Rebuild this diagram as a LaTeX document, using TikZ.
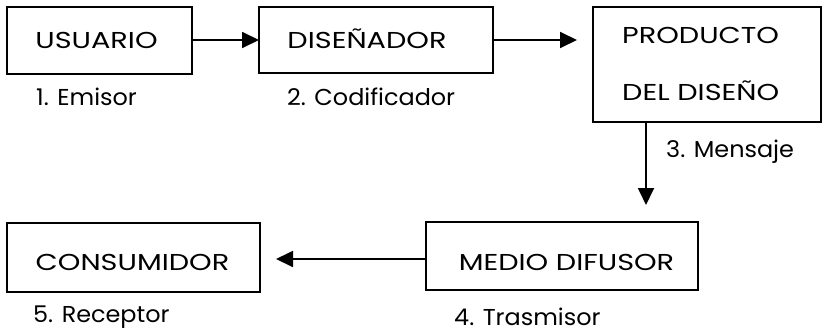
\documentclass[tikz,border=0pt]{standalone}
\usepackage{fontspec}
\usepackage{graphicx}
\setmainfont{Poppins}
\usetikzlibrary{arrows.meta}
% wide lettering: stretch text horizontally
\newcommand{\boxlabel}[1]{\scalebox{1.25}[1]{#1}}
\newcommand{\rolelabel}[1]{\scalebox{1.04}[1]{#1}}
\begin{document}
\begin{tikzpicture}[x=1pt,y=-1pt,
  stage/.style={draw=black,line width=1.8pt,rectangle,inner sep=0pt},
  boxtext/.style={font=\fontsize{23}{26}\selectfont,inner sep=0pt,anchor=base},
  role/.style={font=\fontsize{23}{26}\selectfont,anchor=base west,inner sep=0pt},
  flow/.style={line width=1.8pt,-{Triangle[length=17pt,width=16pt]}}]
\useasboundingbox (0,0) rectangle (824,332);
% boxes
\node[stage,minimum width=185pt,minimum height=67pt] (usuario) at (99.5,40.5) {};
\node[stage,minimum width=234pt,minimum height=66pt] (disenador) at (376,40) {};
\node[stage,minimum width=228pt,minimum height=115pt] (producto) at (707,64.5) {};
\node[stage,minimum width=272pt,minimum height=68pt] (medio) at (562,256) {};
\node[stage,minimum width=253pt,minimum height=69pt] (consumidor) at (133.5,257.5) {};
% box texts (placed on their baselines)
\node[boxtext] at (96.5,48) {\boxlabel{USUARIO}};
\node[boxtext] at (367,48) {\boxlabel{DISEÑADOR}};
\node[boxtext,anchor=base west] at (622,43) {\boxlabel{PRODUCTO}};
\node[boxtext,anchor=base west] at (622,100) {\boxlabel{DEL DISEÑO}};
\node[boxtext] at (566.5,270) {\boxlabel{MEDIO DIFUSOR}};
\node[boxtext] at (132.5,270) {\boxlabel{CONSUMIDOR}};
% roles
\node[role] at (36,105) {\rolelabel{1. Emisor}};
\node[role] at (287,105) {\rolelabel{2. Codificador}};
\node[role] at (666,157) {\rolelabel{3. Mensaje}};
\node[role] at (454,325) {\rolelabel{4. Trasmisor}};
\node[role] at (33,322) {\rolelabel{5. Receptor}};
% connectors
\coordinate (t1) at (259,40);
\coordinate (t2) at (577,40);
\coordinate (s3) at (646,122);
\coordinate (t3) at (646,205);
\coordinate (t4) at (276,259);
\coordinate (s4) at (426,259);
\draw[flow] (usuario.east |- t1) -- (t1);
\draw[flow] (disenador.east |- t2) -- (t2);
\draw[flow] (s3 |- producto.south) -- (t3);
\draw[flow] (medio.west |- s4) -- (t4);
\end{tikzpicture}
\end{document}
